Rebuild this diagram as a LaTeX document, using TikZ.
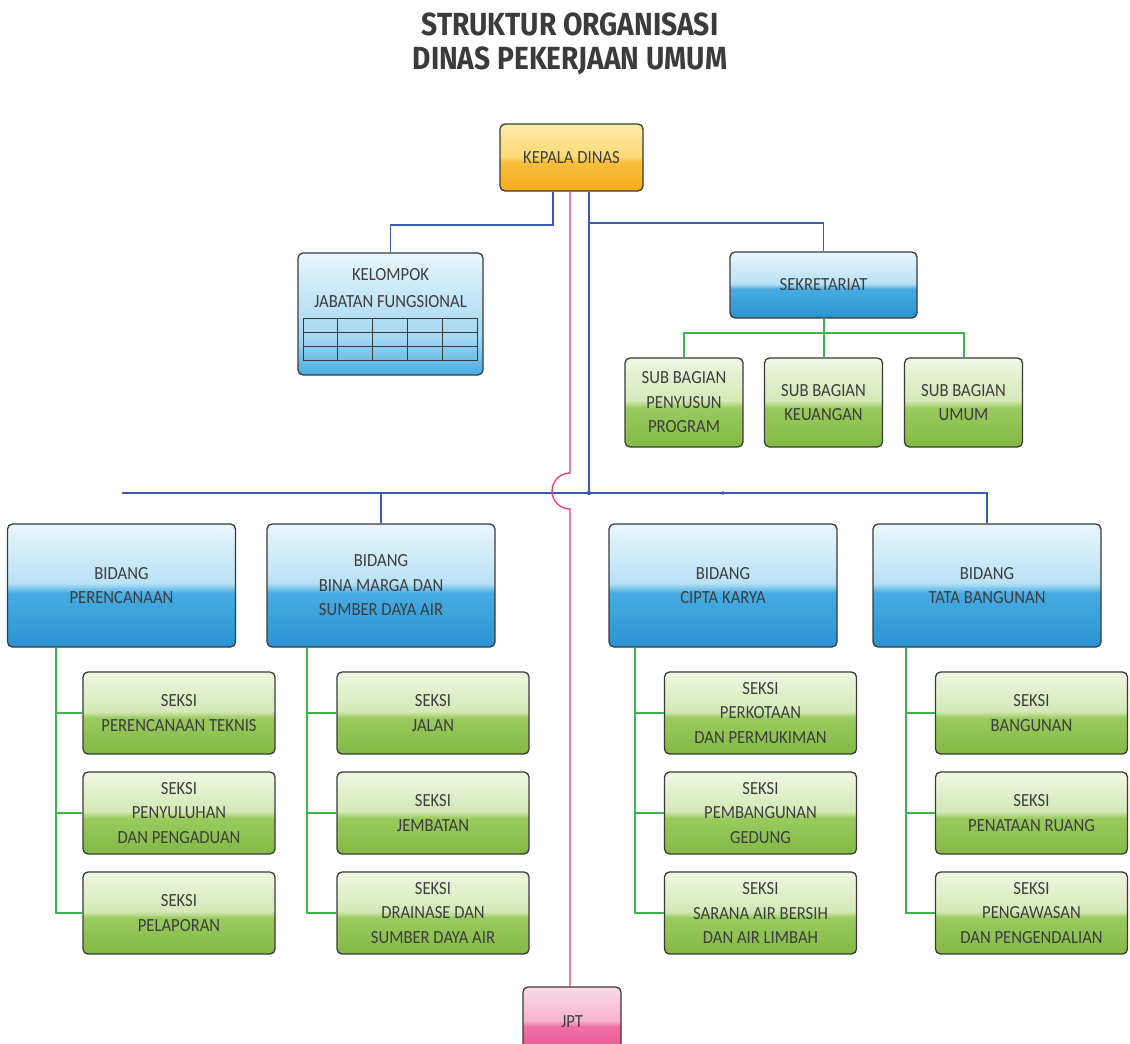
\documentclass[tikz,border=0pt]{standalone}
\usepackage{fontspec}
\newfontfamily\boxfont[FakeStretch=0.9]{Carlito}
\newfontfamily\titlefont[FakeStretch=0.88]{Fira Sans}

\definecolor{boxedge}{HTML}{3A3A3A}
\definecolor{txt}{HTML}{3D3D3D}
\definecolor{titletxt}{HTML}{3B3B3B}
\definecolor{blueline}{HTML}{3A5CAD}
\definecolor{greenline}{HTML}{3DB54A}
\definecolor{pinkline}{HTML}{E8457C}

\definecolor{blueA}{HTML}{2A93D1}
\definecolor{blueB}{HTML}{47ACE2}
\definecolor{blueC}{HTML}{B9E1F5}
\definecolor{blueD}{HTML}{E9F6FC}
\definecolor{greenA}{HTML}{82B944}
\definecolor{greenB}{HTML}{9ACA5F}
\definecolor{greenC}{HTML}{D3E9B6}
\definecolor{greenD}{HTML}{EFF7E3}
\definecolor{orangeA}{HTML}{F5AC1C}
\definecolor{orangeB}{HTML}{F8BF3E}
\definecolor{orangeC}{HTML}{FCDA78}
\definecolor{orangeD}{HTML}{FDE9A8}
\definecolor{pinkA}{HTML}{EA4C8D}
\definecolor{pinkB}{HTML}{EF72A5}
\definecolor{pinkC}{HTML}{F7B3CE}
\definecolor{pinkD}{HTML}{FBDAE8}

% glossy two-tone fills: the box spans 25bp (bottom) to 75bp (top)
\pgfdeclareverticalshading{blueglass}{100bp}{color(0bp)=(blueA); color(25bp)=(blueA); color(47bp)=(blueB); color(51bp)=(blueC); color(75bp)=(blueD); color(100bp)=(blueD)}
\pgfdeclareverticalshading{greenglass}{100bp}{color(0bp)=(greenA); color(25bp)=(greenA); color(47bp)=(greenB); color(51bp)=(greenC); color(75bp)=(greenD); color(100bp)=(greenD)}
\pgfdeclareverticalshading{orangeglass}{100bp}{color(0bp)=(orangeA); color(25bp)=(orangeA); color(47bp)=(orangeB); color(51bp)=(orangeC); color(75bp)=(orangeD); color(100bp)=(orangeD)}
\pgfdeclareverticalshading{pinkglass}{100bp}{color(0bp)=(pinkA); color(25bp)=(pinkA); color(47bp)=(pinkB); color(51bp)=(pinkC); color(75bp)=(pinkD); color(100bp)=(pinkD)}
\pgfdeclareverticalshading{bluesoft}{100bp}{color(0bp)=(blueB); color(25bp)=(blueB); color(40bp)=(blueC!80!blueB); color(75bp)=(blueD); color(100bp)=(blueD)}

\begin{document}
\begin{tikzpicture}[x=1pt,y=-1pt,
  sz/.style 2 args={minimum width=#1, minimum height=#2},
  box/.style={draw=boxedge, line width=1.3pt, rounded corners=5pt, align=center,
    text=txt, inner sep=0pt, font=\boxfont\fontsize{18.5}{24.5}\selectfont},
  bluebox/.style={box, shade, shading=blueglass},
  greenbox/.style={box, shade, shading=greenglass},
  orangebox/.style={box, shade, shading=orangeglass},
  pinkbox/.style={box, shade, shading=pinkglass},
  softbox/.style={box, shade, shading=bluesoft},
  bidang/.style={bluebox, sz={228}{123}},
  seksi/.style={greenbox, sz={192}{82}},
  subbag/.style={greenbox, sz={118}{89}},
  heading/.style={inner sep=0pt, text=titletxt, font=\titlefont\bfseries\fontsize{32}{32}\selectfont},
  boxlabel/.style={inner sep=0pt, align=center, text=txt, font=\boxfont\fontsize{18.5}{27}\selectfont},
  bline/.style={draw=blueline, line width=1.5pt},
  gline/.style={draw=greenline, line width=2pt},
  pline/.style={draw=pinkline, line width=1.4pt},
  gridline/.style={draw=boxedge, line width=1pt}
]
\useasboundingbox (0,0) rectangle (1130,1044);
\clip (0,0) rectangle (1130,1044);
\fill[white] (0,0) rectangle (1130,1044);

% heading
\node[heading] (t1) at (570,24) {STRUKTUR ORGANISASI};
\node[heading] (t2) at (570,61) {DINAS PEKERJAAN UMUM};

% head of office and staff units
\node[orangebox, sz={143}{67}] (kd) at (571.5,157.5) {KEPALA DINAS};

\node[softbox, sz={185}{122}] (kjf) at (390.5,314) {};
\node[boxlabel] (kjft) at (390.5,288.5) {KELOMPOK\\JABATAN FUNGSIONAL};
\draw[gridline] (303,318) rectangle (477,360);
\foreach \i in {1,...,4} \draw[gridline] (303+34.8*\i,318) -- (303+34.8*\i,360);
\draw[gridline] (303,332) -- (477,332);
\draw[gridline] (303,346) -- (477,346);

\node[bluebox, sz={187}{66}] (sek) at (823.5,285) {SEKRETARIAT};
\node[subbag] (sb1) at (684,402.5) {SUB BAGIAN\\PENYUSUN\\PROGRAM};
\node[subbag] (sb2) at (823.5,402.5) {SUB BAGIAN\\KEUANGAN};
\node[subbag] (sb3) at (963.5,402.5) {SUB BAGIAN\\UMUM};

% divisions
\node[bidang] (bd1) at (121.5,585.5) {BIDANG\\PERENCANAAN};
\node[bidang] (bd2) at (381,585.5) {BIDANG\\BINA MARGA DAN\\SUMBER DAYA AIR};
\node[bidang] (bd3) at (723,585.5) {BIDANG\\CIPTA KARYA};
\node[bidang] (bd4) at (987,585.5) {BIDANG\\TATA BANGUNAN};

% sections
\node[seksi] (s11) at (179,713) {SEKSI\\PERENCANAAN TEKNIS};
\node[seksi] (s12) at (179,813) {SEKSI\\PENYULUHAN\\DAN PENGADUAN};
\node[seksi] (s13) at (179,913) {SEKSI\\PELAPORAN};
\node[seksi] (s21) at (433,713) {SEKSI\\JALAN};
\node[seksi] (s22) at (433,813) {SEKSI\\JEMBATAN};
\node[seksi] (s23) at (433,913) {SEKSI\\DRAINASE DAN\\SUMBER DAYA AIR};
\node[seksi] (s31) at (760.5,713) {SEKSI\\PERKOTAAN\\DAN PERMUKIMAN};
\node[seksi] (s32) at (760.5,813) {SEKSI\\PEMBANGUNAN\\GEDUNG};
\node[seksi] (s33) at (760.5,913) {SEKSI\\SARANA AIR BERSIH\\DAN AIR LIMBAH};
\node[seksi] (s41) at (1031.5,713) {SEKSI\\BANGUNAN};
\node[seksi] (s42) at (1031.5,813) {SEKSI\\PENATAAN RUANG};
\node[seksi] (s43) at (1031.5,913) {SEKSI\\PENGAWASAN\\DAN PENGENDALIAN};

\node[pinkbox, sz={98}{70}] (jpt) at (572,1022) {JPT};

% blue command lines
\coordinate (xa) at (553,225);
\coordinate (xb) at (589,223);
\coordinate (bus) at (589,493);
\coordinate (busL) at (122,493);
\draw[bline] (kd.south -| xa) -- (xa) -| (kjf.north);
\draw[bline] (kd.south -| xb) -- (bus);
\draw[bline] (xb) -| (sek.north);
\draw[bline] (busL) -- (bd4.north |- bus) -- (bd4.north);
\draw[bline] (bd2.north |- bus) -- (bd2.north);
\fill[blueline] (bus) circle[radius=2.2pt];
\fill[blueline] (bd3.north |- bus) circle[radius=1.8pt];

% green lines: secretariat
\draw[gline] (sek.south) -- (sek.south |- 0,333);
\draw[gline] (sb1.north) |- (sb3.north |- 0,333) -- (sb3.north);
\draw[gline] (sb2.north) -- (sb2.north |- 0,333);

% green lines: divisions to sections
\coordinate (g1) at (56,647);
\coordinate (g2) at (307,647);
\coordinate (g3) at (635,647);
\coordinate (g4) at (906,647);
\foreach \k in {1,2,3,4}{
  \draw[gline] (g\k) |- (s\k3.west);
  \draw[gline] (s\k1.west) -- (s\k1.west -| g\k);
  \draw[gline] (s\k2.west) -- (s\k2.west -| g\k);
}

% pink line with a jump over the bus
\draw[pline] (kd.south -| 570,0) -- (570,473) arc[start angle=90, end angle=270, radius=18pt] -- (jpt.north -| 570,0);
\end{tikzpicture}
\end{document}
